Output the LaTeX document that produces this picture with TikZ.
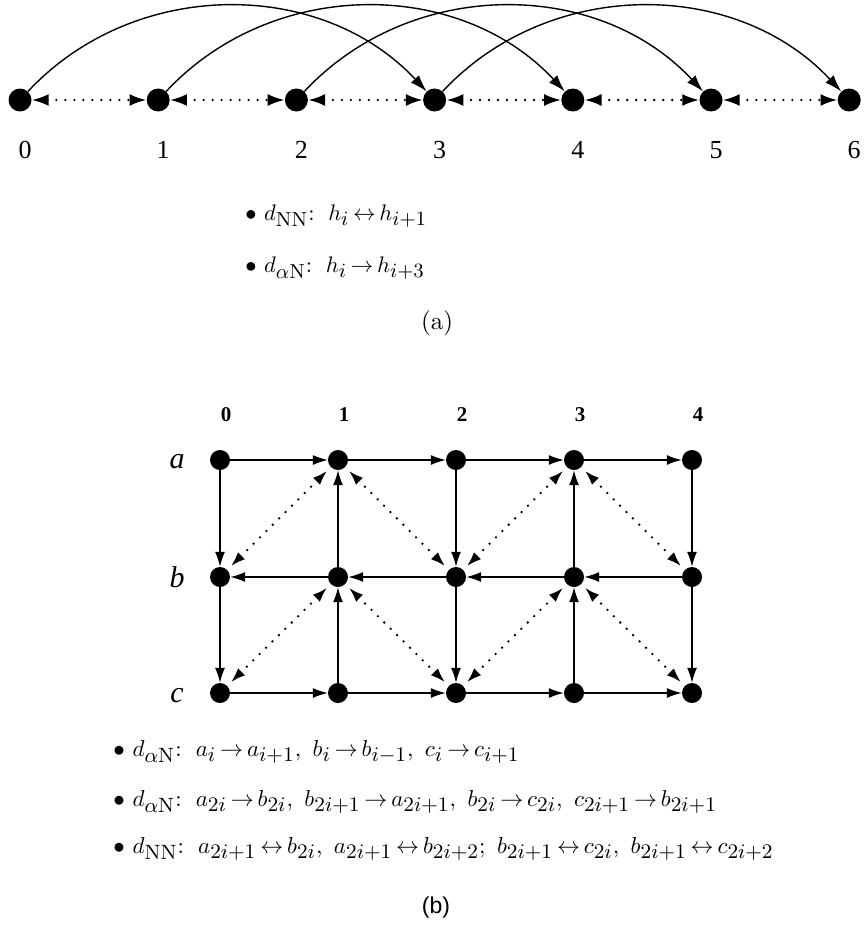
\documentclass[tikz,border=0pt]{standalone}
\usepackage{fontspec}
\newfontfamily\timesf{Liberation Serif}
\newfontfamily\arialf{Liberation Sans}
\usetikzlibrary{arrows.meta}
\DeclareMathSizes{10}{10}{9}{7}
\begin{document}
\begin{tikzpicture}[x=1pt,y=-1pt,
  dotA/.style={circle,fill=black,inner sep=0pt,minimum size=23pt},
  dotB/.style={circle,fill=black,inner sep=0pt,minimum size=20pt},
  sarrA/.style={line width=1.4pt,-{Latex[length=17pt,width=11pt]}},
  sarr/.style={line width=1.4pt,-{Latex[length=15pt,width=10pt]}},
  darrA/.style={line width=2.6pt,line cap=round,dash pattern=on 0pt off 9pt,
    {Latex[length=17pt,width=12pt]}-{Latex[length=17pt,width=12pt]}},
  darr/.style={line width=2.6pt,line cap=round,dash pattern=on 0pt off 9pt,
    {Latex[length=15pt,width=10pt]}-{Latex[length=15pt,width=10pt]}},
  numA/.style={font=\timesf,scale=2.6},
  numB/.style={font=\timesf\bfseries,scale=2.1},
  rowlbl/.style={font=\timesf\itshape,scale=3.0,anchor=base},
  txt/.style={scale=2.25,anchor=base west,inner sep=0pt},
  txtb/.style={scale=2.3,anchor=base west,inner sep=0pt},
  captxt/.style={scale=2.5,anchor=base,inner sep=0pt}]
\useasboundingbox (0,0) rectangle (866,926);
% ---------- (a) ----------
\foreach \i in {0,...,6}{
  \node[dotA] (h\i) at ({20+138.2*\i},100) {};
  \node[numA] (l\i) at ({25+138.2*\i},150) {\i};
}
\foreach \i in {0,...,3}{
  \pgfmathtruncatemacro{\j}{\i+3}
  \draw[sarrA] (h\i) to[out=47,in=133] (h\j);
}
\foreach \i in {0,...,5}{
  \pgfmathtruncatemacro{\j}{\i+1}
  \draw[darrA] (h\i) -- (h\j);
}
\node[txt] (ta1) at (245,220) {$\bullet$ $d_{\mathrm{NN}}$:\, $h_i\,{\leftrightarrow}\,h_{i+1}$};
\node[txt] (ta2) at (245,272) {$\bullet$ $d_{\alpha\mathrm{N}}$:\, $h_i\,{\rightarrow}\,h_{i+3}$};
\node[captxt] (capa) at (437,329) {(a)};
% ---------- (b) ----------
\foreach \r/\y in {a/460,b/577,c/693}{
  \foreach \j in {0,...,4}{
    \node[dotB] (\r\j) at ({220+118*\j},\y) {};
  }
}
\foreach \j in {0,...,4}{
  \node[numB] (cl\j) at ({226+118*\j},415) {\j};
}
\node[rowlbl] (ra) at (177,468) {a};
\node[rowlbl] (rb) at (177,587) {b};
\node[rowlbl] (rc) at (177,702) {c};
% horizontal
\foreach \j/\k in {0/1,1/2,2/3,3/4}{
  \draw[sarr] (a\j) -- (a\k);
  \draw[sarr] (b\k) -- (b\j);
  \draw[sarr] (c\j) -- (c\k);
}
% vertical
\foreach \j in {0,2,4}{
  \draw[sarr] (a\j) -- (b\j);
  \draw[sarr] (b\j) -- (c\j);
}
\foreach \j in {1,3}{
  \draw[sarr] (b\j) -- (a\j);
  \draw[sarr] (c\j) -- (b\j);
}
% dotted diagonals
\foreach \p/\q in {a1/b0,a1/b2,a3/b2,a3/b4,b1/c0,b1/c2,b3/c2,b3/c4}{
  \draw[darr,shorten <=5pt,shorten >=5pt] (\p) -- (\q);
}
\node[txtb] (tb1) at (113,756) {$\bullet$ $d_{\alpha\mathrm{N}}$:\, $a_i\,{\rightarrow}\,a_{i+1},\ b_i\,{\rightarrow}\,b_{i-1},\ c_i\,{\rightarrow}\,c_{i+1}$};
\node[txtb] (tb2) at (113,806) {$\bullet$ $d_{\alpha\mathrm{N}}$:\, $a_{2i}\,{\rightarrow}\,b_{2i},\ b_{2i+1}\,{\rightarrow}\,a_{2i+1},\ b_{2i}\,{\rightarrow}\,c_{2i},\ c_{2i+1}\,{\rightarrow}\,b_{2i+1}$};
\node[txtb] (tb3) at (113,853) {$\bullet$ $d_{\mathrm{NN}}$:\, $a_{2i+1}\,{\leftrightarrow}\,b_{2i},\ a_{2i+1}\,{\leftrightarrow}\,b_{2i+2};\ b_{2i+1}\,{\leftrightarrow}\,c_{2i},\ b_{2i+1}\,{\leftrightarrow}\,c_{2i+2}$};
\node[font=\arialf,scale=2.3,anchor=base,inner sep=0pt] (capb) at (436,913) {(b)};
\end{tikzpicture}
\end{document}
